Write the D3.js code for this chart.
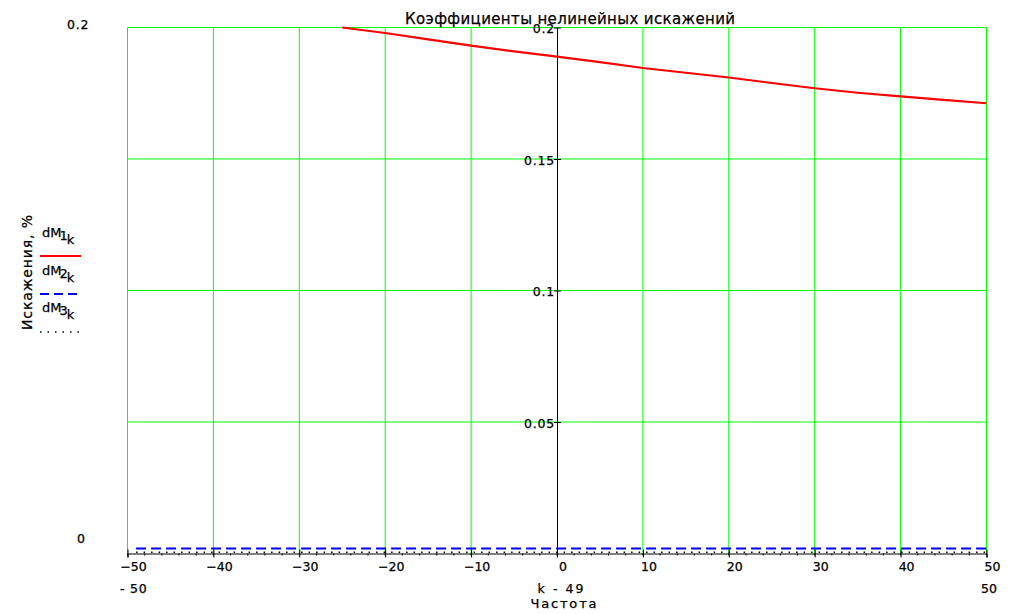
<!DOCTYPE html>
<html><head><meta charset="utf-8">
<script src="https://cdn.jsdelivr.net/npm/d3@7"></script>
<style>html,body{margin:0;padding:0;background:#fff;}svg{display:block;}text{stroke:#000;stroke-width:0.25px;}</style>
</head><body>
<script>
// ---- data ----
const xTickValues = [-50,-40,-30,-20,-10,0,10,20,30,40,50];
const yTickValues = [0.05,0.1,0.15,0.2];
const yTickLabels = ["0.05","0.1","0.15","0.2"];
const dM1x = [-25,-20,-15,-10,-5,0,5,10,15,20,25,30,35,40,45,50];
const dM1y = [0.2000,0.1979,0.1955,0.1931,0.1909,0.1889,0.1868,0.1846,0.1828,0.1810,0.1789,0.1769,0.1752,0.1738,0.1725,0.1712];
const dM2x = [-49,50];
const dM2y = [0.0019,0.0019];
const dM3x = [-49,50];
const dM3y = [0.0005,0.0005];
const title = "Коэффициенты нелинейных искажений";
const yTitle = "Искажения, %";
const xTitle1 = "k - 49";
const xTitle2 = "Частота";

const W = 1019, H = 614;
const svg = d3.select("body").append("svg").attr("width", W).attr("height", H);
const x = d3.scaleLinear().domain([-50,50]).range([127.5,986.5]);
const y = d3.scaleLinear().domain([0,0.2]).range([553.5,27.5]);
const font = "DejaVu Sans, Liberation Sans, Arial, sans-serif";

// grid
const grid = svg.append("g").attr("stroke","#00ff00").attr("stroke-width",1);
grid.selectAll("line.v").data(xTickValues.filter(d=>d!==0)).join("line")
  .attr("x1",d=>x(d)).attr("x2",d=>x(d)).attr("y1",y(0.2)).attr("y2",y(0));
grid.selectAll("line.h").data(yTickValues).join("line")
  .attr("x1",x(-50)).attr("x2",x(50)).attr("y1",d=>y(d)).attr("y2",d=>y(d));

// x axis
const xAxis = d3.axisBottom(x).tickValues(xTickValues).tickSize(4).tickFormat(d=>d3.format("")(d).replace("-","\u2212"));
const gx = svg.append("g").attr("transform",`translate(0,${y(0)})`).call(xAxis);
gx.select(".domain").attr("stroke","#000");
gx.selectAll(".tick line").attr("stroke","#000").attr("y1",-4);
gx.selectAll(".tick text").attr("font-family",font).attr("font-size",12.5).attr("fill","#000")
  .attr("dx",5.5).attr("y",9).attr("dy","0.71em");
// minor ticks
svg.append("g").selectAll("line").data(d3.range(-50,51,2)).join("line")
  .attr("x1",d=>x(d)).attr("x2",d=>x(d)).attr("y1",y(0)).attr("y2",y(0)+2).attr("stroke","#000");

// y axis at x=0
const yAxis = d3.axisLeft(y).tickValues(yTickValues).tickSize(0).tickFormat((d,i)=>yTickLabels[i]);
const gy = svg.append("g").attr("transform",`translate(${x(0)},0)`).call(yAxis);
gy.select(".domain").attr("stroke","#000");
gy.selectAll(".tick line").attr("stroke","#000").attr("x1",-3).attr("x2",4);
gy.selectAll(".tick text").attr("font-family",font).attr("font-size",12.5).attr("fill","#000")
  .attr("x",-2).attr("letter-spacing",0.8).attr("dy","0.4em");

// series
const line = d3.line().x(d=>x(d[0])).y(d=>y(d[1]));
svg.append("path").datum(dM1x.map((v,i)=>[v,dM1y[i]])).attr("d",line)
  .attr("fill","none").attr("stroke","#ff0000").attr("stroke-width",2.2);
svg.append("path").datum(dM2x.map((v,i)=>[v,dM2y[i]])).attr("d",line)
  .attr("fill","none").attr("stroke","#0000ff").attr("stroke-width",2).attr("stroke-dasharray","10,5");
svg.append("path").datum(dM3x.map((v,i)=>[v,dM3y[i]])).attr("d",line)
  .attr("fill","none").attr("stroke","#000").attr("stroke-width",1.5).attr("stroke-dasharray","1.5,6");

// texts
svg.append("text").attr("x",405).attr("y",24).attr("font-family",font).attr("font-size",15)
  .attr("textLength",330).attr("lengthAdjust","spacing").text(title);
svg.append("text").attr("x",67).attr("y",29).attr("font-family",font).attr("font-size",12.5).attr("letter-spacing",0.8).text("0.2");
svg.append("text").attr("x",77).attr("y",543).attr("font-family",font).attr("font-size",12.5).text("0");
svg.append("text").attr("x",120).attr("y",593).attr("font-family",font).attr("font-size",12.5).attr("letter-spacing",0.8).text("- 50");
svg.append("text").attr("x",981).attr("y",593).attr("font-family",font).attr("font-size",12.5).text("50");
svg.append("text").attr("x",537.5).attr("y",593).attr("font-family",font).attr("font-size",12.5)
  .attr("textLength",46).attr("lengthAdjust","spacing").text(xTitle1);
svg.append("text").attr("x",530.5).attr("y",608).attr("font-family",font).attr("font-size",13)
  .attr("textLength",66).attr("lengthAdjust","spacing").text(xTitle2);
svg.append("text").attr("transform","translate(32,272.5) rotate(-90)").attr("text-anchor","middle")
  .attr("font-family",font).attr("font-size",14).attr("textLength",115).attr("lengthAdjust","spacing").text(yTitle);

// legend
const legend = [
  {n:"1", ty:237, ly:256, color:"#ff0000", dash:null, w:2},
  {n:"2", ty:274.5, ly:294, color:"#0000ff", dash:"9,5", w:2},
  {n:"3", ty:312, ly:332, color:"#000", dash:"1.5,6", w:1.5}
];
legend.forEach(l=>{
  const t = svg.append("text").attr("x",42).attr("y",l.ty).attr("font-family",font).attr("font-size",13);
  t.append("tspan").text("dM");
  t.append("tspan").attr("dy",3).attr("dx",-2).text(l.n);
  t.append("tspan").attr("dy",4).attr("dx",-1).text("k");
  const ln = svg.append("line").attr("x1",40).attr("x2",81).attr("y1",l.ly).attr("y2",l.ly)
    .attr("stroke",l.color).attr("stroke-width",l.w);
  if (l.dash) ln.attr("stroke-dasharray",l.dash);
});
</script>
</body></html>
